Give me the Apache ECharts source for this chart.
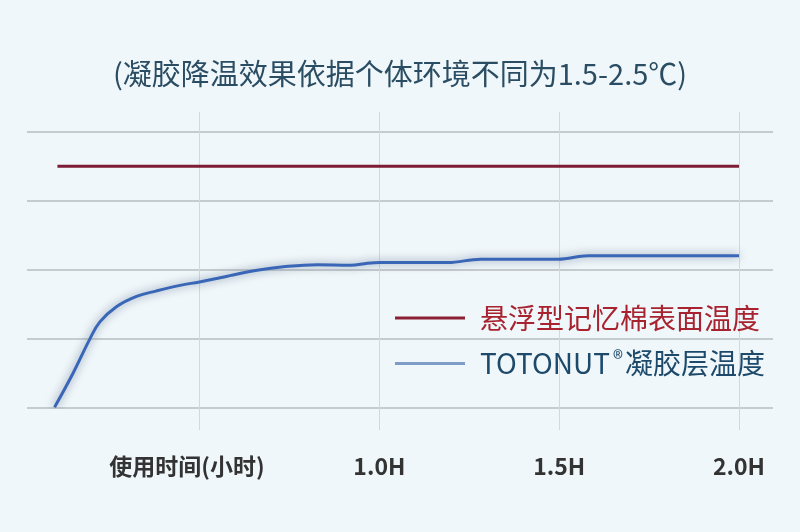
<!DOCTYPE html>
<html>
<head>
<meta charset="utf-8">
<script src="https://cdn.jsdelivr.net/npm/echarts@6/dist/echarts.min.js"></script>
<style>
html,body{margin:0;padding:0;background:#f0f7fa;}
#c{width:800px;height:532px;}
</style>
</head>
<body>
<div id="c"></div>
<script>
// ---- data ----
const titleText = '(凝胶降温效果依据个体环境不同为1.5-2.5℃)';
const seriesNames = ['悬浮型记忆棉表面温度', 'TOTONUT®凝胶层温度'];
// hours
const foamHours = [0.105, 2.0];
const foamTemp = [3.5, 3.5];
const gelHours = [0.097, 0.148, 0.195, 0.223, 0.269, 0.325, 0.381, 0.446, 0.5, 0.557, 0.593, 0.66, 0.733, 0.828, 0.92, 0.967, 1.003, 1.19, 1.282, 1.497, 1.58, 2.0];
const gelTemp  = [0.0, 0.49, 0.99, 1.24, 1.46, 1.61, 1.69, 1.77, 1.82, 1.88, 1.92, 1.99, 2.04, 2.07, 2.06, 2.09, 2.10, 2.10, 2.15, 2.15, 2.20, 2.20];
const xTickValues = [0.5, 1.0, 1.5, 2.0];
const xTickLabels = ['使用时间(小时)', '1.0H', '1.5H', '2.0H'];

const foamData = foamHours.map((h, i) => [h, foamTemp[i]]);
const gelData = gelHours.map((h, i) => [h, gelTemp[i]]);

const chart = echarts.init(document.getElementById('c'));
chart.setOption({
  backgroundColor: '#f0f7fa',
  animation: false,
  title: {
    text: titleText,
    left: 'center',
    top: 54,
    textStyle: {
      fontFamily: 'Noto Sans CJK SC',
      fontSize: 29,
      fontWeight: 'normal',
      color: '#2b4d63'
    }
  },
  legend: {
    orient: 'vertical',
    left: 390,
    top: 299,
    icon: 'rect',
    itemWidth: 70,
    itemHeight: 3,
    itemGap: 16,
    data: [
      { name: seriesNames[0], itemStyle: { color: '#8b2035' }, textStyle: { color: '#a8232f' } },
      { name: seriesNames[1], itemStyle: { color: '#7f9cc6' }, textStyle: { color: '#1d4a6b' } }
    ],
    formatter: function (name) {
      return name.replace('®', '{sup|®}');
    },
    textStyle: {
      fontFamily: 'Noto Sans CJK SC',
      fontSize: 28,
      padding: [0, 0, 0, 10],
      rich: {
        sup: { fontSize: 21, color: '#1d4a6b', verticalAlign: 'top', padding: [0, 2, 10, 3] }
      }
    }
  },
  grid: [
    { left: 27, right: 27, top: 131.7, bottom: 124.7 },
    { left: 19.7, right: 61, top: 112, bottom: 102 }
  ],
  xAxis: [
    {
      gridIndex: 0, type: 'value', min: 0.0204, max: 2.0945,
      show: true, axisLine: { show: false }, axisTick: { show: false },
      axisLabel: { show: false }, splitLine: { show: false }
    },
    {
      gridIndex: 1, type: 'value', min: 0, max: 2, interval: 0.5,
      axisLine: { show: false }, axisTick: { show: false },
      splitLine: { show: true, showMinLine: false, lineStyle: { color: '#d3d8da', width: 1 } },
      axisLabel: {
        margin: 25,
        fontFamily: 'Noto Sans CJK SC',
        fontSize: 23,
        fontWeight: 'bold',
        color: '#333333',
        formatter: function (v) {
          const i = xTickValues.findIndex(t => Math.abs(t - v) < 1e-6);
          if (i < 0) return '';
          return i === 0 ? '{first|' + xTickLabels[i] + '}' : xTickLabels[i];
        },
        rich: {
          first: { fontFamily: 'Noto Sans CJK SC', fontSize: 23, fontWeight: 'bold', color: '#333333', padding: [0, 25, 0, 0] }
        }
      }
    }
  ],
  yAxis: [
    {
      gridIndex: 0, type: 'value', min: 0, max: 4, interval: 1,
      axisLine: { show: false }, axisTick: { show: false }, axisLabel: { show: false },
      splitLine: { show: true, lineStyle: { color: '#c6cbce', width: 2 } }
    },
    {
      gridIndex: 1, type: 'value', min: 0, max: 1, show: false,
      splitLine: { show: false }
    }
  ],
  series: [
    {
      name: seriesNames[0],
      type: 'line',
      xAxisIndex: 0, yAxisIndex: 0,
      data: foamData,
      showSymbol: false,
      symbol: 'none',
      color: '#8b2035',
      lineStyle: { color: '#7d1d35', width: 3 },
      z: 3
    },
    {
      name: seriesNames[1],
      type: 'line',
      xAxisIndex: 0, yAxisIndex: 0,
      data: gelData,
      showSymbol: false,
      symbol: 'none',
      smooth: 0.4,
      color: '#3a66b8',
      lineStyle: { color: '#3a66b8', width: 3, shadowColor: 'rgba(110,130,155,0.95)', shadowBlur: 8 },
      z: 3
    }
  ]
});
</script>
</body>
</html>
